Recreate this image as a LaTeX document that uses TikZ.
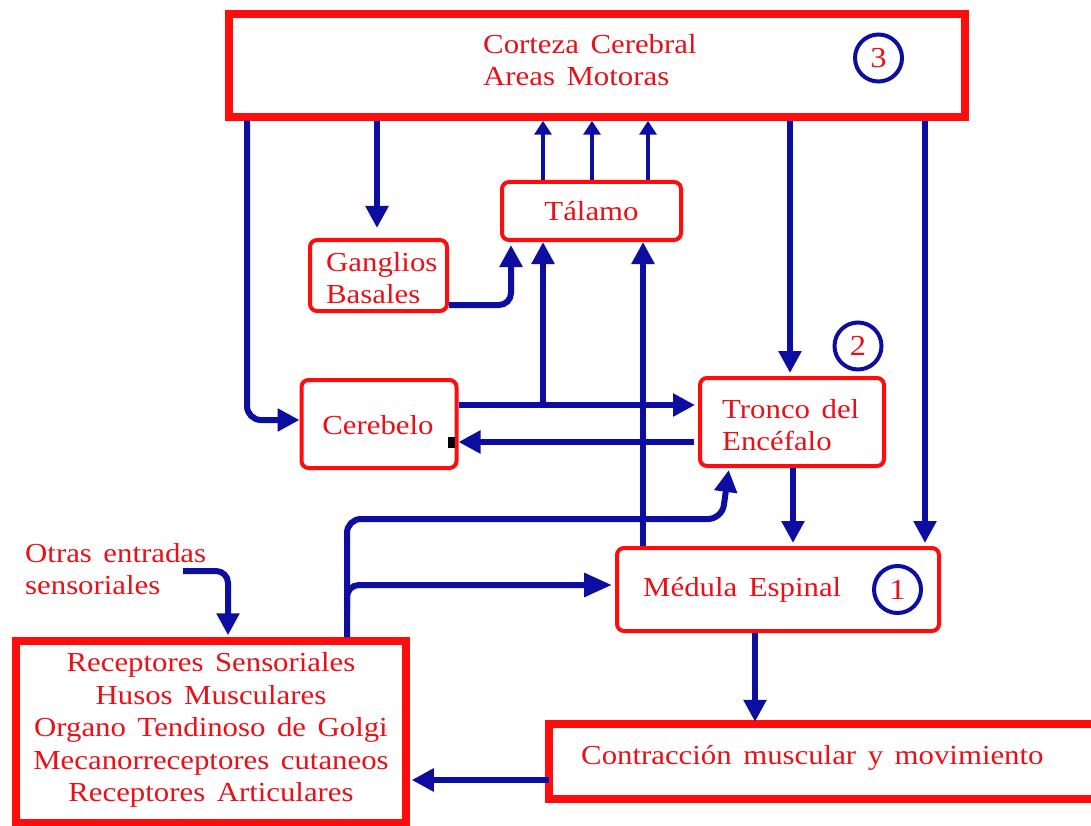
\documentclass[tikz,border=0pt]{standalone}
\usepackage{fontspec}
\setmainfont{Liberation Serif}[FakeStretch=1.12, WordSpace=1.5]
\usetikzlibrary{arrows.meta}
\definecolor{bred}{HTML}{FF0D0D}
\definecolor{tred}{HTML}{EA1018}
\definecolor{nav}{HTML}{0C0EA2}
\begin{document}
\begin{tikzpicture}[x=1pt,y=-1pt,
  box/.style={draw=bred, line width=4pt, rounded corners=7pt, inner sep=0pt},
  bigbox/.style={draw=bred, line width=7.5pt, inner sep=0pt},
  lbl/.style={text=tred, font=\fontsize{27.5}{32.5}\selectfont, inner sep=0pt},
  num/.style={draw=nav, circle, line width=4pt, minimum size=47pt, text=tred, font=\fontsize{29}{29}\selectfont, inner sep=0pt},
  conn/.style={draw=nav, line width=6pt, -{Triangle[length=22pt,width=22pt]}},
  longconn/.style={draw=nav, line width=6pt, -{Triangle[length=28pt,width=23pt]}},
  thinconn/.style={draw=nav, line width=4pt, -{Triangle[length=14pt,width=17pt]}}]
\useasboundingbox (0,0) rectangle (1091,826);
\fill[white] (0,0) rectangle (1091,826);

% boxes
\node[bigbox, minimum width=736pt, minimum height=103pt] (cort) at (597,65.5) {};
\node[lbl, anchor=west, align=left] (cortt) at (483,60) {Corteza Cerebral\\Areas Motoras};
\node[num] (n3) at (878.5,58) {3};

\node[box, minimum width=179pt, minimum height=58pt] (tal) at (591.5,211) {};
\node[lbl] (talt) at (tal) {Tálamo};

\node[box, minimum width=137pt, minimum height=71pt] (gang) at (378.5,275.5) {};
\node[lbl, anchor=west, align=left] (gangt) at (326,278) {Ganglios\\Basales};

\node[box, minimum width=155pt, minimum height=88pt] (cereb) at (379,424) {};
\node[lbl] (cerebt) at (378,425) {Cerebelo};

\node[box, minimum width=184pt, minimum height=88pt] (tron) at (792,422) {};
\node[lbl, anchor=west, align=left] (tront) at (722,425) {Tronco del\\Encéfalo};
\node[num] (n2) at (858,346) {2};

\node[box, minimum width=322pt, minimum height=83pt] (med) at (778,589.5) {};
\node[lbl, anchor=west] (medt) at (643,590) {Médula Espinal};
\node[num] (n1) at (897.5,589.5) {1};

\node[bigbox, minimum width=390pt, minimum height=182pt] (rec) at (211,732) {};
\node[lbl, align=center] (rect) at (211,730) {Receptores Sensoriales\\Husos Musculares\\Organo Tendinoso de Golgi\\Mecanorreceptores cutaneos\\Receptores Articulares};

% Contraccion box: open on the right (cut by the picture edge)
\node[inner sep=0pt, minimum width=542pt, minimum height=75pt] (cont) at (820,761.5) {};
\draw[bred, line width=7.5pt] (cont.north east) -- (cont.north west) -- (cont.south west) -- (cont.south east);
\node[lbl, anchor=west] (contt) at (581,758) {Contracción muscular y movimiento};

\node[lbl, anchor=west, align=left] (otras) at (25,569) {Otras entradas\\sensoriales};

% black mark
\fill[black] (448,437) rectangle (455,448);

% connectors
\draw[conn, rounded corners=14pt] (247,0 |- cort.south) |- (cereb.west |- 0,420);
\draw[conn, shorten >=10pt] (377,0 |- cort.south) -- (377,0 |- gang.north);
\foreach \xx/\nm in {543/a,592/b,648/c}
  \draw[thinconn] (\xx,0 |- tal.north) -- (\xx,0 |- cort.south);
\draw[conn, rounded corners=12pt, shorten >=3pt] (gang.east |- 0,305) -| (511,0 |- tal.south);
\draw[conn, shorten >=3pt] (cereb.east |- 0,405) -- (tron.west |- 0,405);
\draw[conn] (543,405) -- (543,0 |- tal.south);
\draw[conn, shorten <=4pt] (tron.west |- 0,442) -- (cereb.east |- 0,442);
\draw[conn] (643,0 |- med.north) -- (643,0 |- tal.south);
\draw[conn, shorten >=3pt] (790,0 |- cort.south) -- (790,0 |- tron.north);
\draw[conn, shorten >=3pt] (925,0 |- cort.south) -- (925,0 |- med.north);
\draw[conn, shorten >=3pt] (793,0 |- tron.south) -- (793,0 |- med.north);
\draw[conn, rounded corners=14pt, shorten >=2pt] (347,0 |- rec.north) -- (347,519) -- (722,519) -- (729,0 |- tron.south);
\draw[longconn, rounded corners=12pt, shorten >=3pt] (347,610) |- (med.west |- 0,585);
\draw[conn, shorten >=2pt] (755,0 |- med.south) -- (755,0 |- cont.north);
\draw[conn, shorten >=2pt] (cont.west |- 0,780) -- (rec.east |- 0,780);
\draw[conn, rounded corners=12pt, shorten >=2pt] (183,571) -| (228,0 |- rec.north);
\end{tikzpicture}
\end{document}
